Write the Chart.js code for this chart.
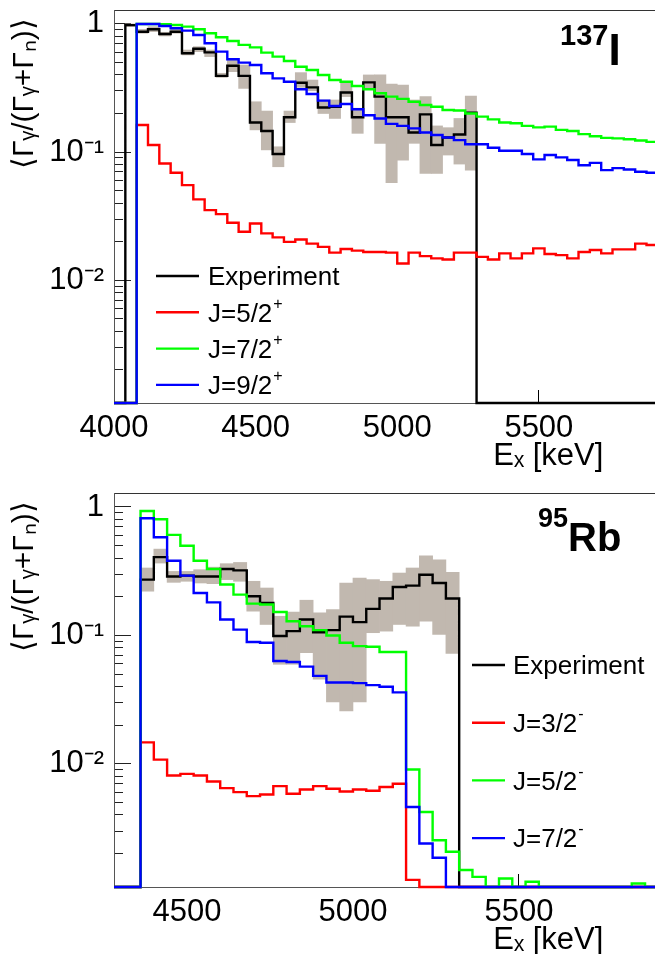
<!DOCTYPE html>
<html>
<head>
<meta charset="utf-8">
<title>Gamma branching ratios, 137I and 95Rb</title>
<script src="https://cdn.jsdelivr.net/npm/chart.js@4.4.1/dist/chart.umd.min.js"></script>
<style>
  html, body { margin: 0; padding: 0; background: #fff; overflow: hidden; }
  canvas { position: absolute; left: 0; }
  #chartI { top: 0; }
  #chartRb { top: 480px; }
</style>
</head>
<body>
<canvas id="chartI" width="655" height="480"></canvas>
<canvas id="chartRb" width="655" height="480"></canvas>
<script>
"use strict";

const FONT = "'Liberation Sans', Arial, Helvetica, sans-serif";
const BIN = 40;            // keV per histogram bin
const Y_MIN = 0.0011;
const Y_MAX = 1.285;

// ---- 137I ----
const I137_RANGE = [4000, 5910];
const I137_TICKS = [4000, 4500, 5000, 5500];
const I137_EXP_FROM = 4040;
const I137_EXP = [0.98, 0.87, 0.91, 0.835, 0.87, 0.59, 0.64, 0.60, 0.393, 0.472, 0.393, 0.170, 0.146, 0.0965, 0.187, 0.348,
  0.320, 0.223, 0.226, 0.292, 0.187, 0.350, 0.271, 0.187, 0.187, 0.142, 0.197, 0.1135, 0.130, 0.137, 0.203];
const I137_EXP_LO = [0.953, 0.846, 0.871, 0.806, 0.846, 0.573, 0.608, 0.556, 0.383, 0.424, 0.314, 0.149, 0.104, 0.0768, 0.170, 0.320,
  0.301, 0.200, 0.183, 0.271, 0.140, 0.314, 0.117, 0.0576, 0.0866, 0.117, 0.0681, 0.0681, 0.0948, 0.0806, 0.0723];
const I137_EXP_HI = [1.0, 0.908, 0.953, 0.861, 0.925, 0.626, 0.665, 0.626, 0.412, 0.523, 0.478, 0.247, 0.209, 0.110, 0.209, 0.417,
  0.365, 0.255, 0.255, 0.348, 0.220, 0.400, 0.400, 0.340, 0.334, 0.255, 0.271, 0.160, 0.155, 0.183, 0.274];
const I137_CALC_FROM = 4080;
const I137_J52 = [0.1625, 0.1135, 0.0815, 0.069, 0.0552, 0.0427, 0.0352, 0.0328, 0.0281, 0.0239, 0.0277, 0.0232, 0.0216, 0.0199,
  0.0208, 0.0193, 0.0182, 0.0164, 0.0175, 0.0170, 0.0166, 0.0166, 0.0164, 0.0135, 0.0164, 0.0154, 0.0148, 0.0145, 0.0164, 0.0164,
  0.0152, 0.0145, 0.0162, 0.0148, 0.0162, 0.0177, 0.0160, 0.0157, 0.0148, 0.0166, 0.0172, 0.0162, 0.0174, 0.0174, 0.0193, 0.0188];
const I137_J72 = [1.0, 1.0, 0.994, 0.982, 0.953, 0.908, 0.846, 0.787, 0.737, 0.686, 0.657, 0.597, 0.556, 0.514, 0.464, 0.437,
  0.400, 0.365, 0.354, 0.328, 0.309, 0.288, 0.271, 0.260, 0.247, 0.233, 0.226, 0.213, 0.211, 0.200, 0.189, 0.180, 0.170, 0.168,
  0.160, 0.156, 0.158, 0.149, 0.146, 0.138, 0.133, 0.129, 0.128, 0.126, 0.123, 0.120];
const I137_J92 = [1.0, 1.0, 0.965, 0.925, 0.887, 0.820, 0.706, 0.608, 0.530, 0.499, 0.478, 0.412, 0.376, 0.354, 0.309, 0.284,
  0.252, 0.229, 0.237, 0.216, 0.194, 0.183, 0.166, 0.160, 0.153, 0.142, 0.136, 0.130, 0.124, 0.115, 0.115, 0.108, 0.1025, 0.1025,
  0.0965, 0.0877, 0.0948, 0.0909, 0.0866, 0.0790, 0.0823, 0.0723, 0.0750, 0.0731, 0.0703, 0.0689];
const I137_LABELS = ['Experiment', 'J=5/2^+', 'J=7/2^+', 'J=9/2^+'];

// ---- 95Rb ----
const RB95_RANGE = [4280, 5910];
const RB95_TICKS = [4500, 5000, 5500];
const RB95_FROM = 4360;
const RB95_EXP = [0.272, 0.407, 0.288, 0.292, 0.288, 0.288, 0.329, 0.321, 0.202, 0.179, 0.0989, 0.108, 0.133, 0.106, 0.110, 0.140,
  0.127, 0.161, 0.194, 0.238, 0.244, 0.297, 0.256, 0.194];
const RB95_EXP_LO = [0.221, 0.366, 0.259, 0.264, 0.256, 0.253, 0.272, 0.264, 0.1545, 0.1217, 0.0596, 0.0596, 0.0734, 0.0456, 0.0303,
  0.0258, 0.0303, 0.105, 0.108, 0.1217, 0.118, 0.129, 0.102, 0.0725];
const RB95_EXP_HI = [0.335, 0.470, 0.315, 0.315, 0.325, 0.340, 0.362, 0.370, 0.264, 0.234, 0.141, 0.152, 0.188, 0.150, 0.159,
  0.256, 0.280, 0.272, 0.264, 0.306, 0.335, 0.417, 0.388, 0.310];
const RB95_J32 = [0.0147, 0.0108, 0.00812, 0.00836, 0.00812, 0.0073, 0.00648, 0.00603, 0.00561, 0.00578, 0.00671, 0.00585, 0.00632,
  0.00671, 0.0064, 0.0061, 0.00632, 0.00618, 0.0066, 0.0070, 0.00125, 0, 0, 0, 0, 0, 0, 0, 0, 0, 0, 0, 0, 0, 0, 0, 0, 0, 0];
const RB95_J52 = [0.931, 0.802, 0.607, 0.499, 0.381, 0.329, 0.249, 0.208, 0.177, 0.174, 0.152, 0.129, 0.118, 0.110, 0.100, 0.0877,
  0.0826, 0.0817, 0.0743, 0.0743, 0.00904, 0.00422, 0.00254, 0.00207, 0.00149, 0.00132, 0, 0.00128, 0, 0.00121, 0, 0, 0, 0, 0, 0, 0,
  0.00117, 0];
const RB95_J72 = [0.817, 0.582, 0.381, 0.292, 0.214, 0.181, 0.133, 0.111, 0.0888, 0.0877, 0.0633, 0.0621, 0.0572, 0.0484, 0.0430,
  0.0430, 0.0425, 0.0410, 0.0398, 0.0360, 0.00461, 0.00240, 0.00186, 0, 0, 0, 0, 0, 0, 0, 0, 0, 0, 0, 0, 0, 0, 0, 0];
const RB95_LABELS = ['Experiment', 'J=3/2^-', 'J=5/2^-', 'J=7/2^-'];

const COLORS = ['#000000', '#ff0000', '#00ff00', '#0000ff'];
const BAND_COLOR = '#c1b8af';
const LINE_W = 2.4;

// histogram as a stepped line: one point per left bin edge, empty bins sit on the frame bottom
function steps(from, values, range) {
  const pts = [];
  if (from > range[0]) pts.push({x: range[0], y: Y_MIN});
  values.forEach((v, i) => pts.push({x: from + i * BIN, y: v > 0 ? v : Y_MIN}));
  const end = from + values.length * BIN;
  if (end < range[1]) {
    pts.push({x: end, y: Y_MIN}, {x: range[1], y: Y_MIN});
  } else {
    const last = values[values.length - 1];
    pts.push({x: end, y: last > 0 ? last : Y_MIN});
  }
  return pts;
}

// error band, one floating bar per bin
function band(from, lo, hi) {
  return lo.map((l, i) => ({x: from + (i + 0.5) * BIN, y: [l, hi[i]]}));
}

function histLine(label, color, data, order) {
  return {
    type: 'line', label, data, order,
    borderColor: color, borderWidth: LINE_W, borderJoinStyle: 'miter',
    stepped: true, pointRadius: 0, tension: 0, fill: false, clip: 3
  };
}

function bandBars(data) {
  return {
    type: 'bar', data, order: 10,
    backgroundColor: BAND_COLOR, borderWidth: 0,
    barPercentage: 1, categoryPercentage: 1, grouped: false
  };
}

function logTicks(min, max, decadesOnly) {
  const out = [];
  for (let e = Math.floor(Math.log10(min)); e <= Math.ceil(Math.log10(max)); e++) {
    for (let m = 1; m <= (decadesOnly ? 1 : 9); m++) {
      const v = m * Math.pow(10, e);
      if (v >= min && v <= max) out.push({value: v});
    }
  }
  return out;
}

const SUP = {'-': '\u207B', '0': '\u2070', '1': '\u00B9', '2': '\u00B2', '3': '\u00B3'};
function decadeLabel(v) {
  const e = Math.round(Math.log10(v));
  if (e === 0) return '1';
  return '10' + String(e).split('').map(c => SUP[c] || c).join('');
}

// keep label overhang from pushing the plot frame around
function noOverhang(s) {
  s.paddingTop = 0;
  s.paddingBottom = 0;
  s.paddingLeft = 0;
  s.paddingRight = 0;
}

// nucleus name and the legend, drawn on top of the histograms
const panelText = {
  id: 'panelText',
  afterDatasetsDraw(chart, args, opts) {
    const ctx = chart.ctx;
    ctx.save();
    ctx.fillStyle = '#000';
    ctx.textAlign = 'left';
    ctx.textBaseline = 'alphabetic';

    const n = opts.nucleus;
    ctx.font = `bold ${n.massSize}px ${FONT}`;
    ctx.fillText(n.mass, n.x, n.massBase);
    const mw = ctx.measureText(n.mass).width;
    ctx.font = `bold ${n.size}px ${FONT}`;
    ctx.fillText(n.symbol, n.x + mw, n.base);

    const lg = opts.legend;
    chart.data.datasets.filter(d => d.label).forEach((d, i) => {
      const y = lg.y + i * lg.step;
      ctx.strokeStyle = d.borderColor;
      ctx.lineWidth = LINE_W;
      ctx.beginPath();
      ctx.moveTo(lg.x, y);
      ctx.lineTo(lg.x + lg.line, y);
      ctx.stroke();
      const [text, parity] = d.label.split('^');
      const tx = lg.x + lg.line + lg.gap;
      const base = y + lg.size * 0.36;
      ctx.font = `${lg.size}px ${FONT}`;
      ctx.fillText(text, tx, base);
      if (parity) {
        const w = ctx.measureText(text).width;
        ctx.font = `${Math.round(lg.size * 0.62)}px ${FONT}`;
        ctx.fillText(parity, tx + w + 1, base - lg.size * 0.5);
      }
    });
    ctx.restore();
  }
};

function panel(id, cfg) {
  const tickFont = {family: FONT, size: 31};
  return new Chart(document.getElementById(id), {
    type: 'line',
    data: {datasets: cfg.datasets},
    plugins: [panelText],
    options: {
      responsive: false,
      animation: false,
      events: [],
      layout: {padding: {top: cfg.top, left: 0, right: 0, bottom: 0}},
      scales: {
        x: {
          type: 'linear', position: 'bottom', min: cfg.range[0], max: cfg.range[1], offset: false,
          afterBuildTicks: s => { s.ticks = cfg.ticks.map(v => ({value: v})); },
          afterFit: s => { s.height = cfg.xHeight; noOverhang(s); },
          border: {color: '#555', width: 1},
          // only the 5500 mark carries a tick
          grid: {drawOnChartArea: false, offset: false, tickLength: -13, tickColor: '#000',
                 tickWidth: c => (c.tick && c.tick.value === 5500 ? 1 : 0)},
          ticks: {font: tickFont, color: '#000', padding: 20, maxRotation: 0, autoSkip: false, callback: v => String(v)},
          title: {display: true, text: 'E\u2093 [keV]      ', align: 'end', color: '#000',
                  font: {family: FONT, size: 31}, padding: {top: 0, bottom: cfg.titlePad}}
        },
        frame: {
          type: 'linear', position: 'top', min: cfg.range[0], max: cfg.range[1],
          afterFit: s => { s.height = 0; noOverhang(s); },
          grid: {display: false}, ticks: {display: false},
          border: {display: true, color: '#333', width: 1}
        },
        y: {
          type: 'logarithmic', position: 'left', weight: 1, min: Y_MIN, max: Y_MAX,
          afterBuildTicks: s => { s.ticks = logTicks(Y_MIN, Y_MAX, true); },
          afterFit: s => { s.width = 114; noOverhang(s); },
          border: {color: '#555', width: 1},
          grid: {drawOnChartArea: false, tickLength: -17, tickColor: '#222'},
          ticks: {font: tickFont, color: '#000', padding: 27, autoSkip: false, callback: v => decadeLabel(v)},
          title: {display: true, text: '\u27E8\u0393\u1D67/(\u0393\u1D67+\u0393\u2099)\u27E9 ', align: 'end', color: '#000',
                  font: {family: FONT, size: 30}, padding: {top: 7, bottom: 0}}
        },
        yMinor: {
          type: 'logarithmic', position: 'left', weight: 0, min: Y_MIN, max: Y_MAX,
          afterBuildTicks: s => { s.ticks = logTicks(Y_MIN, Y_MAX, false); },
          afterFit: s => { s.width = 0; noOverhang(s); },
          border: {display: false},
          grid: {drawOnChartArea: false, tickLength: -9, tickColor: '#222'},
          ticks: {display: false}
        }
      },
      plugins: {
        legend: {display: false},
        tooltip: {enabled: false},
        panelText: {nucleus: cfg.nucleus, legend: cfg.legend}
      }
    }
  });
}

panel('chartI', {
  range: I137_RANGE, ticks: I137_TICKS, top: 10, xHeight: 77, titlePad: 5,
  datasets: [
    histLine(I137_LABELS[0], COLORS[0], steps(I137_EXP_FROM, I137_EXP, I137_RANGE), 3),
    histLine(I137_LABELS[1], COLORS[1], steps(I137_CALC_FROM, I137_J52, I137_RANGE), 2),
    histLine(I137_LABELS[2], COLORS[2], steps(I137_CALC_FROM, I137_J72, I137_RANGE), 1),
    histLine(I137_LABELS[3], COLORS[3], steps(I137_CALC_FROM, I137_J92, I137_RANGE), 0),
    bandBars(band(I137_EXP_FROM, I137_EXP_LO, I137_EXP_HI))
  ],
  nucleus: {mass: '137', symbol: 'I', x: 560, massBase: 45, base: 65, massSize: 29, size: 44},
  legend: {x: 156, y: 276, step: 36.3, line: 43, gap: 9, size: 26}
});

panel('chartRb', {
  range: RB95_RANGE, ticks: RB95_TICKS, top: 13, xHeight: 73, titlePad: 1,
  datasets: [
    histLine(RB95_LABELS[0], COLORS[0], steps(RB95_FROM, RB95_EXP, RB95_RANGE), 3),
    histLine(RB95_LABELS[1], COLORS[1], steps(RB95_FROM, RB95_J32, RB95_RANGE), 2),
    histLine(RB95_LABELS[2], COLORS[2], steps(RB95_FROM, RB95_J52, RB95_RANGE), 1),
    histLine(RB95_LABELS[3], COLORS[3], steps(RB95_FROM, RB95_J72, RB95_RANGE), 0),
    bandBars(band(RB95_FROM, RB95_EXP_LO, RB95_EXP_HI))
  ],
  nucleus: {mass: '95', symbol: 'Rb', x: 538, massBase: 47, base: 71, massSize: 27, size: 40},
  legend: {x: 472, y: 185, step: 57.7, line: 33, gap: 8, size: 26}
});
</script>
</body>
</html>
